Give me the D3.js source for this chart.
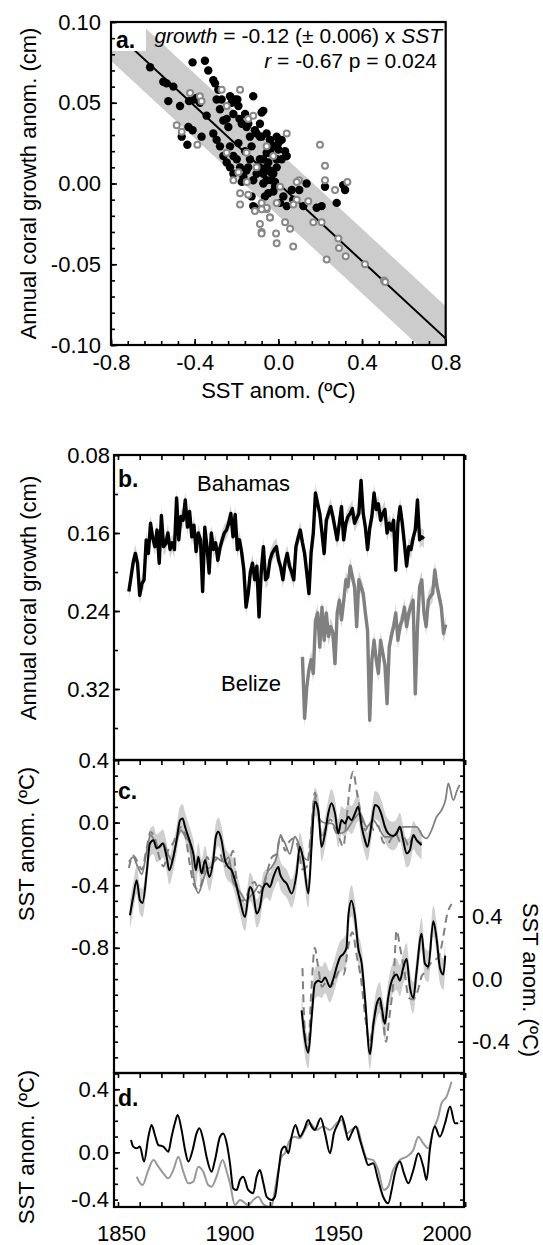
<!DOCTYPE html>
<html><head><meta charset="utf-8">
<script src="https://cdn.jsdelivr.net/npm/d3@7"></script>
<style>
body{margin:0;background:#fff}
text{font-family:"Liberation Sans",Arial,Helvetica,sans-serif;fill:#000}
</style>
</head><body><svg id="chart" width="543" height="1245"></svg>
<script>
// ---------------- DATA ----------------
// Panel a: scatter (SST anomaly vs coral growth anomaly)
const blackSST = [-0.613,-0.550,-0.534,-0.526,-0.502,-0.470,-0.462,-0.435,-0.427,-0.410,-0.402,-0.391,-0.430,-0.410,-0.375,-0.367,-0.351,-0.343,-0.335,-0.311,-0.303,-0.295,-0.287,-0.279,-0.271,-0.263,-0.247,-0.239,-0.231,-0.223,-0.215,-0.207,-0.196,-0.191,-0.186,-0.175,-0.159,-0.152,-0.144,-0.136,-0.128,-0.120,-0.112,-0.104,-0.088,-0.072,-0.056,-0.040,-0.024,-0.008,0.000,
 -0.311,-0.295,-0.279,-0.263,-0.247,-0.231,-0.215,-0.199,-0.183,-0.167,-0.152,-0.136,-0.120,-0.104,-0.088,-0.072,-0.056,-0.040,-0.024,-0.008,-0.128,-0.120,-0.112,-0.215,-0.231,-0.159,-0.191,-0.175,-0.144,-0.048,-0.032,-0.016,-0.064,
 -0.080,-0.088,-0.080,-0.040,-0.024,0.000,0.016,0.032,0.040,0.016,-0.056,-0.072,-0.048,-0.088,-0.016,-0.024,-0.064,0.008,0.024,0.040,0.064,0.071,0.100,0.135,0.119,0.183,0.207,0.223,0.279,0.310,0.319,-0.072,-0.040,-0.008,-0.056];
const blackGrowth = [0.072,0.063,0.062,0.051,0.060,0.048,0.029,0.024,0.051,0.075,0.052,0.053,0.035,0.033,0.050,0.029,0.076,0.042,0.070,0.064,0.062,0.052,0.058,0.046,0.052,0.039,0.040,0.035,0.054,0.050,0.043,0.052,0.052,0.048,0.040,0.037,0.043,0.035,0.037,0.029,0.023,0.054,0.033,0.031,0.029,0.045,0.031,0.027,0.023,0.029,0.021,
 0.031,0.027,0.023,0.017,0.013,0.010,0.006,0.015,0.010,0.004,0.008,0.015,0.002,0.006,0.015,0.000,0.010,0.019,0.006,0.015,-0.008,-0.014,-0.015,0.017,0.023,0.020,0.025,0.001,0.010,-0.006,0.002,-0.002,0.008,
 0.044,0.037,0.029,0.027,0.023,0.025,0.027,0.020,0.017,0.015,0.019,0.015,0.013,0.010,0.001,-0.005,-0.008,-0.012,-0.008,-0.014,-0.004,-0.010,-0.004,0.000,-0.014,-0.015,-0.014,-0.002,-0.012,-0.001,-0.004,0.006,0.008,0.010,0.002];
const graySST = [-0.486,-0.462,-0.387,-0.422,-0.375,-0.367,-0.271,-0.183,-0.247,-0.144,-0.120,-0.191,-0.151,-0.144,-0.183,-0.112,-0.080,-0.056,-0.040,-0.088,-0.080,-0.011,-0.183,-0.152,-0.104,-0.215,-0.247,-0.056,-0.024,
 0.040,0.199,0.223,0.223,0.271,0.330,0.099,0.143,0.088,0.072,-0.008,-0.056,-0.040,-0.080,0.032,0.056,0.167,0.207,-0.008,0.071,-0.080,0.287,0.290,0.322,0.231,0.414,0.505,0.511,0.008,0.088];
const grayGrowth = [0.036,0.032,0.024,0.056,0.054,0.051,0.058,0.058,0.048,0.040,0.042,0.007,0.001,-0.007,-0.013,-0.017,-0.012,-0.016,-0.021,-0.025,-0.030,-0.031,-0.006,0.019,0.010,0.002,0.019,0.023,0.017,
 0.031,0.024,0.011,0.002,-0.004,0.001,0.002,-0.011,-0.010,-0.013,-0.012,-0.015,-0.021,-0.016,-0.024,-0.028,-0.024,-0.024,-0.037,-0.039,-0.031,-0.034,-0.040,-0.045,-0.047,-0.050,-0.060,-0.061,-0.002,0.001];
const fitSlope = -0.12;
const fitBand = 0.02;

// Panel b: annual coral growth (cm)
const bahamasStart = 1855;
const bahamas = [0.220,0.205,0.190,0.181,0.191,0.224,0.212,0.208,0.167,0.181,0.150,0.165,0.174,0.157,0.191,0.142,0.174,0.171,0.160,0.177,0.170,0.177,0.124,0.167,0.143,0.147,0.126,0.154,0.138,0.164,0.152,0.179,0.160,0.167,0.220,0.154,0.174,0.201,0.160,0.177,0.170,0.188,0.175,0.167,0.160,0.157,0.150,0.140,0.164,0.141,0.177,0.167,0.180,0.198,0.236,0.222,0.200,0.191,0.208,0.194,0.246,0.200,0.174,0.208,0.205,0.188,0.181,0.177,0.174,0.188,0.195,0.208,0.190,0.181,0.194,0.200,0.208,0.174,0.165,0.157,0.170,0.181,0.201,0.222,0.180,0.160,0.119,0.130,0.140,0.160,0.181,0.147,0.140,0.133,0.143,0.155,0.167,0.150,0.133,0.167,0.150,0.143,0.140,0.135,0.150,0.145,0.140,0.106,0.140,0.154,0.177,0.155,0.143,0.119,0.136,0.130,0.147,0.140,0.136,0.160,0.150,0.157,0.147,0.198,0.150,0.133,0.150,0.171,0.194,0.174,0.177,0.165,0.157,0.126,0.167,0.164,0.166];
const bahamasErr = 0.009;
const belizeStart = 1935;
const belize = [0.287,0.350,0.318,0.300,0.290,0.304,0.250,0.242,0.277,0.236,0.270,0.242,0.266,0.256,0.262,0.294,0.242,0.229,0.249,0.230,0.208,0.215,0.194,0.205,0.215,0.256,0.208,0.215,0.222,0.242,0.260,0.352,0.290,0.270,0.290,0.304,0.270,0.283,0.295,0.335,0.277,0.265,0.256,0.242,0.270,0.255,0.249,0.236,0.256,0.242,0.235,0.229,0.325,0.256,0.215,0.208,0.242,0.256,0.229,0.225,0.222,0.198,0.215,0.225,0.236,0.263,0.254];
const belizeErr = 0.009;

// Panel c: SST anomaly reconstructions (upper group, left axis)
const cBlackYears = [1855.5,1857.0,1858.6,1860.1,1861.3,1863.2,1864.7,1866.3,1867.8,1869.0,1870.6,1872.4,1873.6,1875.5,1877.0,1878.6,1879.8,1880.9,1882.4,1883.9,1884.7,1885.9,1887.0,1888.5,1890.1,1892.1,1893.9,1895.1,1896.2,1897.7,1899.3,1900.8,1902.4,1903.9,1906.2,1908.5,1910.8,1912.3,1913.9,1915.4,1917.0,1918.5,1920.0,1921.6,1923.9,1924.6,1926.2,1927.7,1930.0,1932.3,1933.8,1935.4,1937.7,1939.2,1940.7,1942.3,1943.8,1945.4,1946.9,1948.4,1950.0,1951.5,1953.0,1954.6,1956.1,1957.6,1959.2,1960.7,1962.3,1963.8,1964.9,1966.9,1968.4,1969.9,1971.5,1973.0,1974.5,1976.8,1978.4,1979.9,1981.4,1983.0,1984.5,1986.1,1987.6,1989.9];
const cBlack = [-0.592,-0.475,-0.368,-0.496,-0.513,-0.325,-0.133,-0.112,-0.165,-0.155,-0.133,-0.219,-0.304,-0.219,-0.112,0.016,0.027,-0.027,-0.091,-0.155,-0.197,-0.304,-0.219,-0.325,-0.240,-0.347,-0.240,-0.091,-0.059,-0.112,-0.240,-0.283,-0.304,-0.368,-0.496,-0.603,-0.411,-0.453,-0.581,-0.539,-0.411,-0.389,-0.411,-0.347,-0.283,-0.325,-0.368,-0.389,-0.453,-0.325,-0.155,-0.240,-0.453,-0.155,0.133,0.080,-0.155,-0.069,0.059,0.123,0.059,-0.069,0.016,-0.005,0.037,0.016,0.059,0.101,-0.027,-0.112,-0.155,-0.005,0.112,0.101,0.048,-0.027,-0.069,-0.086,-0.069,-0.027,-0.112,-0.197,-0.176,-0.080,-0.112,-0.144];
const cBlackErr = 0.09;
const cGrayYears = [1855,1857,1859,1861,1863,1865,1867,1869,1871,1873,1875,1877,1879,1881,1883,1885,1887,1889,1891,1893,1895,1897,1899,1901,1903,1905,1907,1909,1911,1913,1915,1917,1918.5,1921,1923.1,1924.6,1926.9,1929.2,1931.5,1933.1,1935.4,1937.7,1940.7,1943.1,1946.1,1948.4,1952.3,1955.3,1958.4,1961.5,1964.6,1967.6,1969.9,1973,1976.1,1979.1,1981.4,1984.5,1987.6,1990.7,1992.2,1994.5,1996.8,1999.1,2001,2002.2,2004.5,2006.3,2007.5];
const cGray = [-0.25,-0.22,-0.28,-0.33,-0.20,-0.08,-0.12,-0.16,-0.13,-0.20,-0.24,-0.12,-0.05,-0.09,-0.13,-0.36,-0.45,-0.38,-0.30,-0.28,-0.22,-0.24,-0.25,-0.22,-0.38,-0.42,-0.46,-0.50,-0.47,-0.44,-0.40,-0.42,-0.33,-0.28,-0.22,-0.09,-0.13,-0.20,-0.09,-0.13,-0.22,-0.24,0.165,0.016,-0.005,-0.005,-0.069,-0.048,0.016,0.059,-0.027,0.016,-0.027,-0.091,-0.091,-0.048,-0.027,-0.027,-0.027,-0.091,-0.101,-0.048,0.037,0.080,0.15,0.251,0.144,0.208,0.24];
const cDashYears = [1855,1857,1859,1861,1863,1865,1867,1869,1871,1873,1875,1877,1879,1881,1883,1885,1887,1889,1891,1893,1895,1897,1899,1901,1903,1905,1907,1909,1911,1913,1915,1917,1919,1921,1923,1925,1927,1929,1931,1933,1935,1937,1939,1940.7,1942.5,1944,1946,1948,1950,1952,1953.8,1955.5,1957,1958.4,1960,1962,1964,1966,1968,1970,1972,1974,1976,1978,1980,1982,1984,1986,1988,1990];
const cDash = [-0.29,-0.21,-0.25,-0.30,-0.18,-0.06,-0.10,-0.22,-0.28,-0.18,-0.14,-0.08,-0.03,-0.08,-0.26,-0.40,-0.43,-0.36,-0.22,-0.26,-0.24,-0.20,-0.28,-0.26,-0.18,-0.42,-0.50,-0.48,-0.40,-0.38,-0.45,-0.40,-0.30,-0.22,-0.20,-0.08,-0.18,-0.12,-0.10,-0.16,-0.30,-0.28,-0.05,0.19,0.05,-0.10,-0.02,0.02,-0.05,-0.10,-0.155,0.05,0.25,0.325,0.20,0.05,-0.05,0.0,-0.05,-0.02,-0.12,-0.14,-0.10,-0.07,-0.12,-0.10,-0.15,-0.09,-0.12,-0.13];
// Panel c: lower group (right axis)
const cLowYears = [1934.6,1937.7,1939.2,1940.7,1942.3,1943.8,1945.4,1947.7,1949.2,1950.7,1952.3,1953.8,1955.3,1956.1,1957.6,1959.2,1960.7,1962.3,1963.8,1966.1,1967.6,1969.2,1970.7,1971.5,1973.0,1974.5,1976.8,1978.4,1979.9,1981.4,1983.0,1984.5,1986.1,1987.6,1989.9,1991.4,1993.0,1995.3,1996.8,1998.4,1999.9,2000.8];
const cLowBlack = [-0.20,-0.47,-0.25,-0.03,-0.01,-0.02,0.01,-0.05,0.00,0.075,0.14,0.16,0.20,0.395,0.50,0.40,0.20,0.10,-0.12,-0.48,-0.30,-0.16,-0.12,-0.18,-0.285,-0.12,0.01,0.03,-0.01,0.07,0.13,-0.05,-0.12,0.05,0.29,0.10,0.08,0.37,0.26,0.07,0.03,0.15];
const cLowErr = 0.1;
const cLowDashYears = [1935,1936.2,1937.6,1939,1940.7,1942,1944,1946,1948,1950,1952,1954,1956,1958,1960,1962,1964,1966,1968,1970,1972,1973.5,1975,1977,1978.4,1980,1982,1984,1986,1988,1990,1992,1994,1996,1998,2000,2001.4,2003.7];
const cLowDash = [0.07,-0.35,-0.45,-0.10,0.20,0.10,-0.05,-0.02,-0.05,0.00,0.05,0.03,0.20,0.30,0.15,0.00,-0.25,-0.40,-0.25,-0.15,-0.25,-0.40,-0.25,0.00,0.31,0.20,0.05,-0.12,-0.13,-0.08,0.02,0.05,0.10,0.12,0.15,0.28,0.395,0.48];

// Panel d
const dBlackYears = [1856.0,1857.0,1858.6,1860.1,1862.0,1864.0,1865.5,1867.0,1868.6,1870.9,1873.2,1874.7,1876.2,1877.5,1879.3,1880.9,1882.4,1884.4,1886.2,1887.5,1889.3,1890.8,1893.1,1894.7,1897.0,1898.5,1900.1,1901.6,1903.1,1904.7,1906.2,1907.7,1910.0,1912.3,1913.9,1915.4,1917.0,1918.5,1920.8,1922.3,1923.9,1925.4,1926.9,1928.5,1930.0,1931.8,1933.8,1935.7,1937.7,1939.2,1940.7,1943.4,1945.4,1947.7,1949.5,1951.5,1953.0,1954.6,1956.1,1957.6,1959.6,1961.5,1963.8,1965.3,1967.6,1969.9,1972.2,1974.5,1976.1,1977.6,1979.9,1981.8,1983.8,1986.1,1988.4,1990.7,1992.2,1993.7,1996.0,1998.3,2000.7,2003.0,2005.3,2006.8];
const dBlack = [0.078,0.036,0.025,0.036,-0.059,0.099,0.173,0.110,0.046,0.036,0.004,0.099,0.184,0.237,0.142,0.015,-0.059,0.015,0.120,0.152,0.078,-0.028,-0.123,-0.049,0.099,0.120,0.057,-0.070,-0.229,-0.239,-0.176,-0.155,-0.239,-0.260,-0.155,-0.112,-0.197,-0.282,-0.303,-0.282,-0.130,0.015,0.036,-0.006,0.099,0.173,0.099,0.142,0.205,0.163,0.142,0.216,0.120,-0.006,0.120,0.184,0.230,0.163,0.078,0.120,0.163,0.078,-0.028,-0.081,-0.070,-0.176,-0.282,-0.324,-0.239,-0.134,-0.059,-0.134,-0.197,-0.112,-0.006,-0.091,-0.176,0.015,0.163,0.099,0.184,0.290,0.184,0.184];
const dGrayYears = [1858.6,1861.3,1864.0,1866.3,1868.6,1870.9,1873.2,1875.5,1877.8,1880.1,1882.4,1884.7,1887.0,1889.3,1891.6,1893.1,1895.4,1898.2,1900.1,1901.6,1903.9,1906.2,1907.7,1910.0,1912.3,1914.6,1917.0,1919.3,1920.8,1922.3,1923.9,1925.4,1926.9,1929.2,1931.5,1933.8,1936.1,1938.4,1941.5,1944.6,1947.7,1950.7,1953.0,1955.3,1957.6,1960.0,1962.3,1964.6,1967.6,1969.9,1972.5,1974.5,1976.8,1979.9,1983.0,1986.1,1988.4,1990.7,1993.0,1995.3,1997.6,1999.1,2001.4,2003.7];
const dGray = [-0.155,-0.208,-0.112,-0.049,-0.091,-0.134,-0.165,-0.112,-0.028,-0.123,-0.197,-0.186,-0.091,-0.123,-0.208,-0.218,-0.155,-0.049,-0.123,-0.197,-0.335,-0.303,-0.313,-0.335,-0.303,-0.282,-0.330,-0.345,-0.340,-0.239,-0.112,-0.028,-0.006,0.078,0.099,0.089,0.142,0.184,0.142,0.163,0.142,0.184,0.205,0.120,0.142,0.163,0.057,-0.038,-0.049,-0.112,-0.239,-0.218,-0.112,-0.049,-0.028,0.015,0.099,0.057,0.025,0.142,0.226,0.311,0.353,0.448];

// tick labels
const aXTicks = [-0.8,-0.4,0.0,0.4,0.8];
const aYTicks = [0.10,0.05,0.00,-0.05,-0.10];
const bYTicks = [0.08,0.16,0.24,0.32];
const cYTicks = [0.4,0.0,-0.4,-0.8];
const cRTicks = [0.4,0.0,-0.4];
const dYTicks = [0.4,0.0,-0.4];
const yearTicks = [1850,1900,1950,2000];

// ---------------- DRAW ----------------
const svg = d3.select('#chart');
const FS = 22;
const fmt = (n) => d => (Math.abs(d) < 1e-9 ? (0).toFixed(n) : d.toFixed(n));
const defs = svg.append('defs');
function clip(id, x, y, w, h){ defs.append('clipPath').attr('id', id).append('rect').attr('x',x).attr('y',y).attr('width',w).attr('height',h); return `url(#${id})`; }
function cleanAxis(g){ g.select('.domain').remove(); g.selectAll('line').attr('stroke','#000').attr('stroke-width',1.6); g.selectAll('text').attr('font-size',FS).attr('font-family','"Liberation Sans",Arial,sans-serif').attr('fill','#000'); }

// ===== Panel a =====
const A = {l:111, r:445.7, t:22, b:345};
const ax = d3.scaleLinear([-0.8,0.8],[A.l,A.r]);
const ay = d3.scaleLinear([-0.1,0.1],[A.b,A.t]);
const ga = svg.append('g');
const clipA = clip('clipA', A.l, A.t, A.r-A.l, A.b-A.t);
const gaIn = ga.append('g').attr('clip-path', clipA);
const bx = [-0.8, 0.8];
gaIn.append('polygon')
  .attr('points', [[bx[0], fitSlope*bx[0]+fitBand],[bx[1], fitSlope*bx[1]+fitBand],[bx[1], fitSlope*bx[1]-fitBand],[bx[0], fitSlope*bx[0]-fitBand]].map(p=>[ax(p[0]),ay(p[1])].join(',')).join(' '))
  .attr('fill','#cccccc');
gaIn.append('line').attr('x1',ax(-0.8)).attr('y1',ay(fitSlope*-0.8)).attr('x2',ax(0.8)).attr('y2',ay(fitSlope*0.8)).attr('stroke','#000').attr('stroke-width',2);
gaIn.append('rect').attr('x',A.l).attr('y',A.t).attr('width',35).attr('height',29).attr('fill','#fff');
gaIn.selectAll('circle.blk').data(d3.zip(blackSST, blackGrowth)).join('circle').attr('class','blk')
  .attr('cx',d=>ax(d[0])).attr('cy',d=>ay(d[1])).attr('r',4.2).attr('fill','#000');
gaIn.selectAll('circle.gry').data(d3.zip(graySST, grayGrowth)).join('circle').attr('class','gry')
  .attr('cx',d=>ax(d[0])).attr('cy',d=>ay(d[1])).attr('r',3.0).attr('fill','#fff').attr('stroke','#888').attr('stroke-width',2);
ga.append('g').attr('transform',`translate(${A.l},0)`).call(d3.axisLeft(ay).tickValues(aYTicks).tickSizeInner(-6).tickSizeOuter(0).tickPadding(10).tickFormat(fmt(2))).call(cleanAxis);
ga.append('g').attr('transform',`translate(${A.l},0)`).call(d3.axisLeft(ay).tickValues(d3.range(-0.1,0.1001,0.01)).tickSizeInner(-4).tickSizeOuter(0).tickFormat('')).call(cleanAxis);
ga.append('g').attr('transform',`translate(0,${A.b})`).call(d3.axisBottom(ax).tickValues(aXTicks).tickSizeInner(-6).tickSizeOuter(0).tickPadding(9).tickFormat(fmt(1))).call(cleanAxis);
ga.append('g').attr('transform',`translate(0,${A.b})`).call(d3.axisBottom(ax).tickValues(d3.range(-0.8,0.8001,0.08)).tickSizeInner(-4).tickSizeOuter(0).tickFormat('')).call(cleanAxis);
ga.append('rect').attr('x',A.l).attr('y',A.t).attr('width',A.r-A.l).attr('height',A.b-A.t).attr('fill','none').attr('stroke','#000').attr('stroke-width',2.2);
ga.append('text').attr('x',A.l+5).attr('y',48).attr('font-size',FS+1).attr('font-weight','bold').text('a.');
const eq = ga.append('text').attr('x',442).attr('y',43).attr('text-anchor','end').attr('font-size',FS-1);
eq.append('tspan').attr('font-style','italic').text('growth');
eq.append('tspan').text(' = -0.12 (± 0.006) x ');
eq.append('tspan').attr('font-style','italic').text('SST');
const rr = ga.append('text').attr('x',437).attr('y',68).attr('text-anchor','end').attr('font-size',FS-1);
rr.append('tspan').attr('font-style','italic').text('r');
rr.append('tspan').text(' = -0.67 p = 0.024');
ga.append('text').attr('transform',`translate(36,${(A.t+A.b)/2}) rotate(-90)`).attr('text-anchor','middle').attr('font-size',FS).text('Annual coral growth anom. (cm)');
ga.append('text').attr('x',(A.l+A.r)/2).attr('y',398).attr('text-anchor','middle').attr('font-size',FS).text('SST anom. (ºC)');

// ===== Panels b, c, d shared x =====
const P = {l:114, r:464};
const tx = d3.scaleLinear([1850,2000],[118,443.5]);
const decade = d3.range(1850,2011,10);

// ===== Panel b =====
const B = {t:455, b:760};
const by = d3.scaleLinear([0.08,0.3928],[B.t,B.b]);
const gb = svg.append('g');
const gbIn = gb.append('g').attr('clip-path', clip('clipB', P.l, B.t, P.r-P.l, B.b-B.t));
const bahYears = bahamas.map((_,i)=>bahamasStart+i);
const belYears = belize.map((_,i)=>belizeStart+i);
const bandB = (err) => d3.area().x(d=>tx(d[0])).y0(d=>by(d[1]-err)).y1(d=>by(d[1]+err));
const lineB = d3.line().x(d=>tx(d[0])).y(d=>by(d[1]));
gbIn.append('path').datum(d3.zip(bahYears,bahamas)).attr('d',bandB(bahamasErr)).attr('fill','#d4d4d4');
gbIn.append('path').datum(d3.zip(belYears,belize)).attr('d',bandB(belizeErr)).attr('fill','#d4d4d4');
gbIn.append('path').datum(d3.zip(belYears,belize)).attr('d',lineB).attr('fill','none').attr('stroke','#808080').attr('stroke-width',3.4).attr('stroke-linejoin','round');
gbIn.append('path').datum(d3.zip(bahYears,bahamas)).attr('d',lineB).attr('fill','none').attr('stroke','#000').attr('stroke-width',3.4).attr('stroke-linejoin','round');
gb.append('g').attr('transform',`translate(${P.l},0)`).call(d3.axisLeft(by).tickValues(bYTicks).tickSizeInner(-6).tickSizeOuter(0).tickPadding(4).tickFormat(fmt(2))).call(cleanAxis);
gb.append('g').attr('transform',`translate(${P.l},0)`).call(d3.axisLeft(by).tickValues(d3.range(0.08,0.3801,0.04)).tickSizeInner(-4).tickSizeOuter(0).tickFormat('')).call(cleanAxis);
gb.append('g').attr('transform',`translate(0,${B.t})`).call(d3.axisTop(tx).tickValues(decade).tickSizeInner(-5).tickSizeOuter(0).tickFormat('')).call(cleanAxis);
gb.append('text').attr('x',P.l+4).attr('y',487).attr('font-size',FS+1).attr('font-weight','bold').text('b.');
gb.append('text').attr('x',197).attr('y',491).attr('font-size',FS).text('Bahamas');
gb.append('text').attr('x',221).attr('y',691).attr('font-size',FS).text('Belize');
gb.append('text').attr('transform',`translate(36,598) rotate(-90)`).attr('text-anchor','middle').attr('font-size',FS).text('Annual coral growth (cm)');

// ===== Panel c =====
const C = {t:760, b:1073};
const cy = d3.scaleLinear([-1.6,0.4],[C.b,C.t]);
const cyR = d3.scaleLinear([-0.6,1.4],[C.b,C.t]);
const gc = svg.append('g');
const gcIn = gc.append('g').attr('clip-path', clip('clipC', P.l, C.t, P.r-P.l, C.b-C.t));
const curve = d3.curveMonotoneX;
gcIn.append('path').datum(d3.zip(cBlackYears,cBlack)).attr('d',d3.area().curve(curve).x(d=>tx(d[0])).y0(d=>cy(d[1]-cBlackErr)).y1(d=>cy(d[1]+cBlackErr))).attr('fill','#cfcfcf');
gcIn.append('path').datum(d3.zip(cLowYears,cLowBlack)).attr('d',d3.area().curve(curve).x(d=>tx(d[0])).y0(d=>cyR(d[1]-cLowErr)).y1(d=>cyR(d[1]+cLowErr))).attr('fill','#cfcfcf');
const lc = d3.line().curve(curve).x(d=>tx(d[0])).y(d=>cy(d[1]));
const lcR = d3.line().curve(curve).x(d=>tx(d[0])).y(d=>cyR(d[1]));
gcIn.append('path').datum(d3.zip(cGrayYears,cGray)).attr('d',lc).attr('fill','none').attr('stroke','#808080').attr('stroke-width',1.8);
gcIn.append('path').datum(d3.zip(cDashYears,cDash)).attr('d',lc).attr('fill','none').attr('stroke','#808080').attr('stroke-width',2).attr('stroke-dasharray','8,5');
gcIn.append('path').datum(d3.zip(cLowDashYears,cLowDash)).attr('d',lcR).attr('fill','none').attr('stroke','#808080').attr('stroke-width',2).attr('stroke-dasharray','8,5');
gcIn.append('path').datum(d3.zip(cBlackYears,cBlack)).attr('d',lc).attr('fill','none').attr('stroke','#000').attr('stroke-width',2);
gcIn.append('path').datum(d3.zip(cLowYears,cLowBlack)).attr('d',lcR).attr('fill','none').attr('stroke','#000').attr('stroke-width',2);
gc.append('g').attr('transform',`translate(${P.l},0)`).call(d3.axisLeft(cy).tickValues(cYTicks).tickSizeInner(-6).tickSizeOuter(0).tickPadding(5).tickFormat(fmt(1))).call(cleanAxis);
gc.append('g').attr('transform',`translate(${P.l},0)`).call(d3.axisLeft(cy).tickValues(d3.range(-1.6,0.4001,0.1)).tickSizeInner(-4).tickSizeOuter(0).tickFormat('')).call(cleanAxis);
gc.append('g').attr('transform',`translate(${P.r},0)`).call(d3.axisRight(cyR).tickValues(cRTicks).tickSizeInner(-6).tickSizeOuter(0).tickPadding(8).tickFormat(fmt(1))).call(cleanAxis);
gc.append('g').attr('transform',`translate(${P.r},0)`).call(d3.axisRight(cyR).tickValues(d3.range(-0.6,1.4001,0.1)).tickSizeInner(-4).tickSizeOuter(0).tickFormat('')).call(cleanAxis);
gc.append('g').attr('transform',`translate(0,${C.t})`).call(d3.axisTop(tx).tickValues(decade).tickSizeInner(-5).tickSizeOuter(0).tickFormat('')).call(cleanAxis);
gc.append('text').attr('x',P.l+4).attr('y',799).attr('font-size',FS+1).attr('font-weight','bold').text('c.');
gc.append('text').attr('transform',`translate(34,844) rotate(-90)`).attr('text-anchor','middle').attr('font-size',FS).text('SST anom. (ºC)');
gc.append('text').attr('transform',`translate(523,980) rotate(90)`).attr('text-anchor','middle').attr('font-size',FS).text('SST anom. (ºC)');

// ===== Panel d =====
const D = {t:1073, b:1207};
const dy = d3.scaleLinear([-0.347,0.503],[D.b,D.t]);
const gd = svg.append('g');
const gdIn = gd.append('g').attr('clip-path', clip('clipD', P.l, D.t, P.r-P.l, D.b-D.t));
const ld = d3.line().curve(curve).x(d=>tx(d[0])).y(d=>dy(d[1]));
gdIn.append('path').datum(d3.zip(dGrayYears,dGray)).attr('d',ld).attr('fill','none').attr('stroke','#999').attr('stroke-width',2);
gdIn.append('path').datum(d3.zip(dBlackYears,dBlack)).attr('d',ld).attr('fill','none').attr('stroke','#000').attr('stroke-width',2);
const dAxis = gd.append('g').attr('transform',`translate(${P.l},0)`).call(d3.axisLeft(dy).tickValues(dYTicks).tickSizeInner(-6).tickSizeOuter(0).tickPadding(5).tickFormat(fmt(1))).call(cleanAxis);
dAxis.selectAll('.tick').filter(d=>dy(d)>D.b).attr('transform',`translate(0,${D.b-7})`).select('line').remove();
gd.append('g').attr('transform',`translate(${P.l},0)`).call(d3.axisLeft(dy).tickValues(d3.range(-0.3,0.5001,0.1)).tickSizeInner(-4).tickSizeOuter(0).tickFormat('')).call(cleanAxis);
gd.append('g').attr('transform',`translate(${P.r},0)`).call(d3.axisRight(dy).tickValues(d3.range(-0.3,0.5001,0.1)).tickSizeInner(-4).tickSizeOuter(0).tickFormat('')).call(cleanAxis);
gd.append('g').attr('transform',`translate(0,${D.t})`).call(d3.axisTop(tx).tickValues(decade).tickSizeInner(-5).tickSizeOuter(0).tickFormat('')).call(cleanAxis);
gd.append('g').attr('transform',`translate(0,${D.b})`).call(d3.axisBottom(tx).tickValues(decade).tickSizeInner(-5).tickSizeOuter(0).tickFormat('')).call(cleanAxis);
gd.append('g').attr('transform',`translate(3,${D.b})`).call(d3.axisBottom(tx).tickValues(yearTicks).tickSize(0).tickPadding(18).tickFormat(d3.format('d'))).call(cleanAxis);
gd.append('text').attr('x',P.l+4).attr('y',1106).attr('font-size',FS+1).attr('font-weight','bold').text('d.');
gd.append('text').attr('transform',`translate(34,1147) rotate(-90)`).attr('text-anchor','middle').attr('font-size',FS).text('SST anom. (ºC)');

[[B.t,B.b],[C.t,C.b],[D.t,D.b]].forEach(([t,b])=>{
  svg.append('rect').attr('x',P.l).attr('y',t).attr('width',P.r-P.l).attr('height',b-t).attr('fill','none').attr('stroke','#000').attr('stroke-width',2.2);
});
</script></body></html>
